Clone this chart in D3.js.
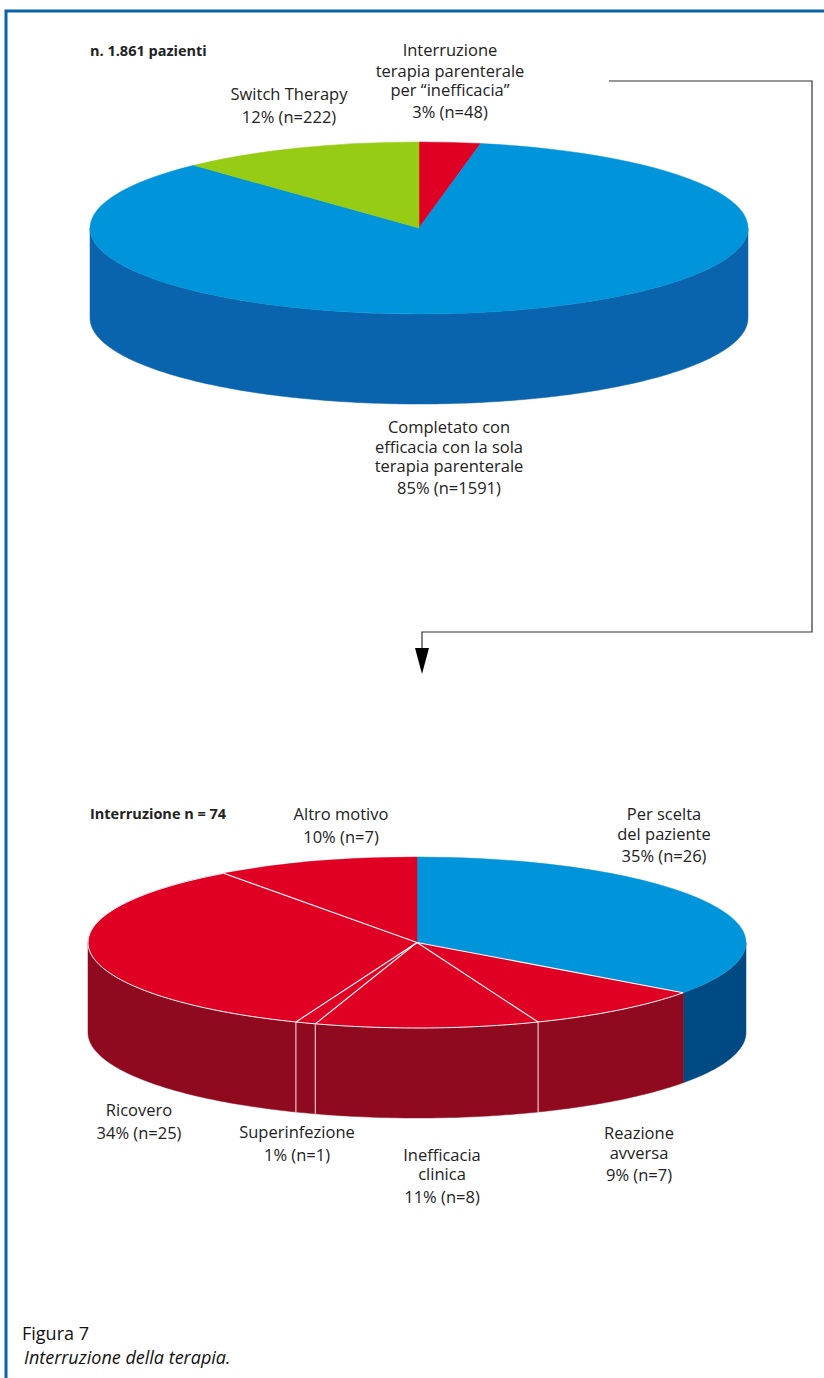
<!DOCTYPE html>
<html><head><meta charset="utf-8">
<script src="https://d3js.org/d3.v7.min.js"></script>
<style>html,body{margin:0;padding:0;background:#fff}svg{display:block}
text{font-family:"Open Sans",sans-serif;fill:#222;font-size:16.5px}</style></head>
<body><svg id="c" width="824" height="1378"></svg>
<script>
const topCategories = ["Interruzione terapia parenterale", "Completato", "Switch Therapy"];
const topValues = [3, 85, 12];
const topColors = ["#e00024", "#0094da", "#96cc14"];
const topWalls = ["#8f0a1e", "#0a64ad", "#6f9a10"];
const bottomCategories = ["Per scelta del paziente", "Reazione avversa", "Inefficacia clinica", "Superinfezione", "Ricovero", "Altro motivo"];
const bottomValues = [35, 9, 11, 1, 34, 10];
const bottomColors = ["#0094da", "#e00024", "#e00024", "#e00024", "#e00024", "#e00024"];
const bottomWalls = ["#004a84", "#8f0a1e", "#8f0a1e", "#8f0a1e", "#8f0a1e", "#8f0a1e"];
const topLabels = [
  {x:450,y:[56,77,96,118],t:["Interruzione","terapia parenterale","per “inefficacia”","3% (n=48)"]},
  {x:289,y:[100,123],t:["Switch Therapy","12% (n=222)"]},
  {x:449,y:433,t:["Completato con","efficacia con la sola","terapia parenterale","85% (n=1591)"],step:[0,20,39,61]}
];
const bottomLabels = [
  {x:664,y:[820,840,862],t:["Per scelta","del paziente","35% (n=26)"]},
  {x:341,y:[820,843],t:["Altro motivo","10% (n=7)"]},
  {x:139,y:[1116,1139],t:["Ricovero","34% (n=25)"]},
  {x:297,y:[1138,1161],t:["Superinfezione","1% (n=1)"]},
  {x:442,y:[1161,1180,1203],t:["Inefficacia","clinica","11% (n=8)"]},
  {x:639,y:[1139,1159,1181],t:["Reazione","avversa","9% (n=7)"]}
];
const svg = d3.select("#c");
const BLUE = "#0b62a8";
svg.append("path").attr("d","M6,1378V11H824").attr("fill","none").attr("stroke",BLUE).attr("stroke-width",3);

function pie3d(cx, cy, rx, ry, depth, values, colors, walls, divider) {
  const g = svg.append("g");
  const arcs = d3.pie().sort(null).value(d=>d)(values);
  const px = a => cx + rx*Math.sin(a), py = a => cy - ry*Math.cos(a);
  const step = Math.PI/180;
  arcs.forEach((d,i)=>{
    const a0 = Math.max(d.startAngle, Math.PI/2), a1 = Math.min(d.endAngle, 3*Math.PI/2);
    if (a1 <= a0) return;
    const angs = d3.range(a0, a1, step).concat([a1]);
    const up = angs.map(a=>[px(a),py(a)]);
    const down = angs.map(a=>[px(a),py(a)+depth]).reverse();
    g.append("path").attr("d", d3.line()(up.concat(down))+"Z").attr("fill",walls[i]).attr("stroke",walls[i]).attr("stroke-width",.5);
  });
  if (divider) arcs.forEach(d=>{
    [d.startAngle].forEach(a=>{
      if (a>Math.PI/2 && a<3*Math.PI/2 && a>2.5 )
        g.append("line").attr("x1",px(a)).attr("x2",px(a)).attr("y1",py(a)).attr("y2",py(a)+depth)
         .attr("stroke","#e8c4c9").attr("stroke-width",1.2);
    });
  });
  const top = g.append("g").attr("transform",`translate(${cx},${cy}) scale(1,${ry/rx})`);
  const arc = d3.arc().innerRadius(0).outerRadius(rx);
  top.selectAll("path").data(arcs).join("path").attr("d",arc).attr("fill",(d,i)=>colors[i])
    .attr("stroke",(d,i)=>colors[i]).attr("stroke-width",.5).attr("vector-effect","non-scaling-stroke");
  if (divider) {
    // white separators between red sectors and along the front rim
    arcs.forEach((d,i)=>{
      if (i===0) return;
      const a = d.startAngle;
      g.append("line").attr("x1",cx).attr("y1",cy).attr("x2",px(a)).attr("y2",py(a)).attr("stroke","#fff").attr("stroke-width",1.1);
    });
    const a0 = arcs[1].startAngle, a1 = arcs[arcs.length-1].startAngle;
    const rim = d3.range(a0, a1, step).concat([a1]).map(a=>[px(a),py(a)]);
    g.append("path").attr("d",d3.line()(rim)).attr("fill","none").attr("stroke","#fff").attr("stroke-width",1);
  }
}
pie3d(419,228,329,86,90,topValues,topColors,topWalls,false);
pie3d(417,942.5,329,85.5,90,bottomValues,bottomColors,bottomWalls,true);

function label(l){
  const t = svg.append("text").attr("text-anchor","middle");
  l.t.forEach((s,i)=>{
    const y = Array.isArray(l.y) ? l.y[i] : l.y + l.step[i];
    t.append("tspan").attr("x",l.x).attr("y",y).text(s);
  });
}
topLabels.forEach(label); bottomLabels.forEach(label);
svg.append("text").attr("x",90).attr("y",56).attr("font-weight",700).style("font-size","14.5px").style("font-weight",700).text("n. 1.861 pazienti");
svg.append("text").attr("x",90).attr("y",819).style("font-size","14.5px").style("font-weight",700).text("Interruzione n = 74");
svg.append("text").attr("x",22).attr("y",1340).style("font-size","18px").style("fill","#111").text("Figura 7");
svg.append("text").attr("x",24).attr("y",1364).style("font-size","18px").style("font-style","italic").style("fill","#111").text("Interruzione della terapia.");

svg.append("path").attr("d","M609,81H812V632H422V650").attr("fill","none").attr("stroke","#333").attr("stroke-width",1.2);
svg.append("path").attr("d","M415,648H429L422,674Z").attr("fill","#000");
</script></body></html>
